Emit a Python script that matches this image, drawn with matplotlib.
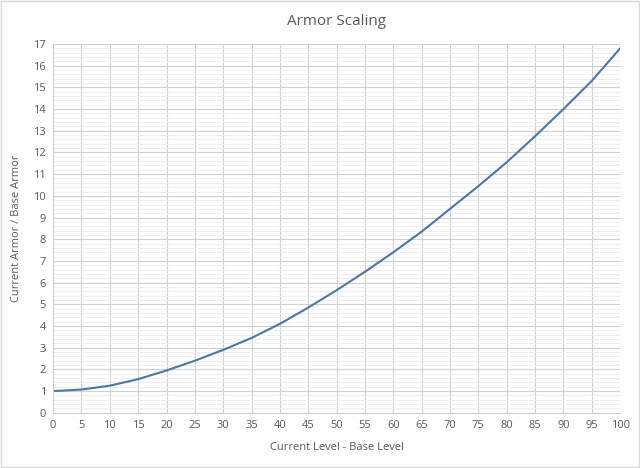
import matplotlib.pyplot as plt
from matplotlib.ticker import MultipleLocator

# Values
level = [0, 5, 10, 15, 20, 25, 30, 35, 40, 45, 50, 55, 60, 65, 70, 75, 80, 85, 90, 95, 100]
armor = [1.0, 1.07, 1.25, 1.55, 1.95, 2.4, 2.9, 3.45, 4.1, 4.85, 5.65, 6.5, 7.4, 8.35,
         9.4, 10.45, 11.55, 12.75, 14.0, 15.3, 16.8]

plt.rcParams['font.family'] = ['Open Sans', 'DejaVu Sans']
fig = plt.figure(figsize=(6.4, 4.68), dpi=100)
ax = fig.add_axes([0.083, 0.118, 0.886, 0.788])

ax.plot(level, armor, color='#4a76a8', lw=1.5)
ax.set_xlim(0, 100)
ax.set_ylim(0, 17)
ax.xaxis.set_major_locator(MultipleLocator(5))
ax.yaxis.set_major_locator(MultipleLocator(1))
ax.yaxis.set_minor_locator(MultipleLocator(0.2))
ax.grid(which='major', color='#d0d0d0', lw=0.8)
ax.grid(which='minor', axis='y', color='#ececec', lw=0.6)
ax.set_axisbelow(True)
for s in ['top', 'right']:
    ax.spines[s].set_visible(False)
for s in ['left', 'bottom']:
    ax.spines[s].set_color('#d0d0d0')
ax.tick_params(which='both', length=0, labelsize=8, colors='#595959', pad=5)

ax.set_title('Armor Scaling', fontsize=11, color='#595959', pad=14)
ax.set_xlabel('Current Level - Base Level', fontsize=8, color='#595959', labelpad=8)
ax.set_ylabel('Current Armor / Base Armor', fontsize=8, color='#595959', labelpad=8)

# light frame around the whole chart
fig.patches.append(plt.Rectangle((0.002, 0.002), 0.996, 0.996, transform=fig.transFigure,
                                 fill=False, edgecolor='#d9d9d9', lw=1))

fig.savefig('out.png', dpi=100)
